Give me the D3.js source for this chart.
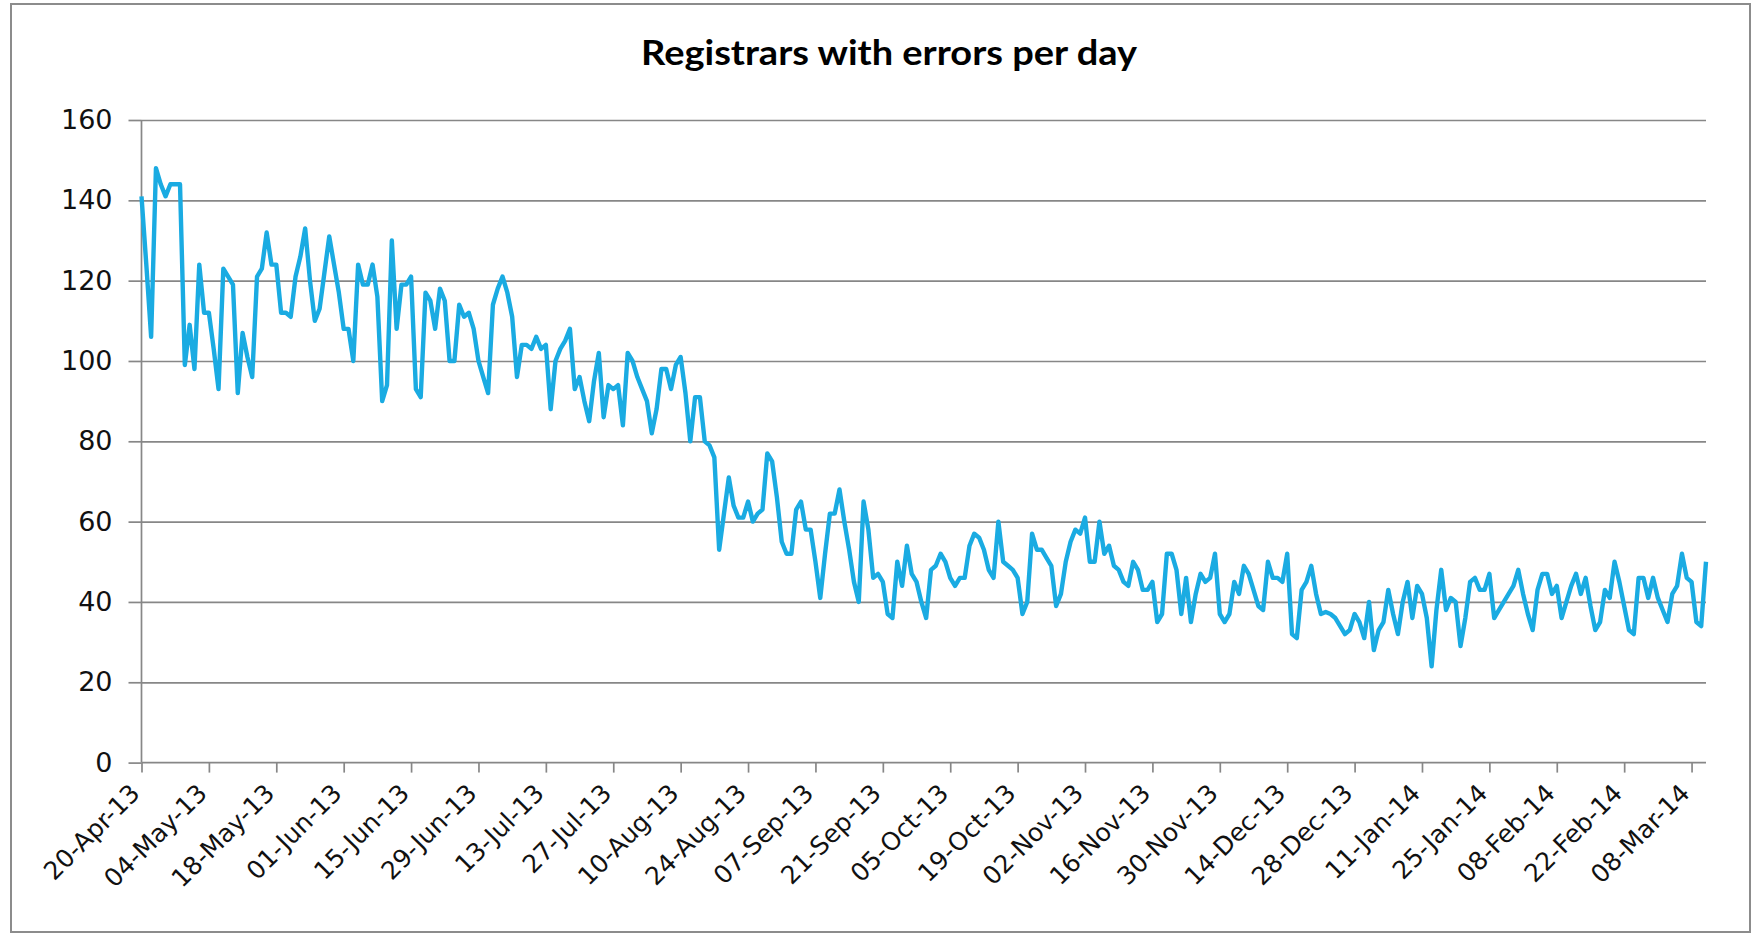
<!DOCTYPE html>
<html>
<head>
<meta charset="utf-8">
<script src="https://cdn.jsdelivr.net/npm/d3@7"></script>
<style>
  html, body { margin: 0; padding: 0; background: #ffffff; }
  svg { display: block; }
</style>
</head>
<body>
<svg id="chart" width="1761" height="937"></svg>
<script>
// ---------------- data ----------------
const chartTitle = "Registrars with errors per day";
const startDate = "2013-04-20";
const values = [
  141,124,106,148,144,141,144,144,144,99,
  109,98,124,112,112,103,93,123,121,119,
  92,107,101,96,121,123,132,124,124,112,
  112,111,121,126,133,120,110,113,122,131,
  124,117,108,108,100,124,119,119,124,116,
  90,94,130,108,119,119,121,93,91,117,
  115,108,118,115,100,100,114,111,112,108,
  100,96,92,114,118,121,117,111,96,104,
  104,103,106,103,104,88,100,103,105,108,
  93,96,90,85,95,102,86,94,93,94,
  84,102,100,96,93,90,82,88,98,98,
  93,99,101,92,80,91,91,80,79,76,
  53,62,71,64,61,61,65,60,62,63,
  77,75,66,55,52,52,63,65,58,58,
  50,41,52,62,62,68,60,53,45,40,
  65,58,46,47,45,37,36,50,44,54,
  47,45,40,36,48,49,52,50,46,44,
  46,46,54,57,56,53,48,46,60,50,
  49,48,46,37,40,57,53,53,51,49,
  39,42,50,55,58,57,61,50,50,60,
  52,54,49,48,45,44,50,48,43,43,
  45,35,37,52,52,48,37,46,35,42,
  47,45,46,52,37,35,37,45,42,49,
  47,43,39,38,50,46,46,45,52,32,
  31,43,45,49,42,37,37.5,37,36,34,
  32,33,37,35,31,40,28,33,35,43,
  37,32,40,45,36,44,42,36,24,38,
  48,38,41,40,29,36,45,46,43,43,
  47,36,38,40,42,44,48,42,37,33,
  43,47,47,42,44,36,40,44,47,42,
  46,39,33,35,43,41,50,45,39,33,
  32,46,46,41,46,41,38,35,42,44,
  52,46,45,35,34,50
];
const tickLabels = [
  "20-Apr-13","04-May-13","18-May-13","01-Jun-13","15-Jun-13","29-Jun-13",
  "13-Jul-13","27-Jul-13","10-Aug-13","24-Aug-13","07-Sep-13","21-Sep-13",
  "05-Oct-13","19-Oct-13","02-Nov-13","16-Nov-13","30-Nov-13","14-Dec-13",
  "28-Dec-13","11-Jan-14","25-Jan-14","08-Feb-14","22-Feb-14","08-Mar-14"
];
const yTicks = [0, 20, 40, 60, 80, 100, 120, 140, 160];

// ---------------- layout ----------------
const parseLabel = d3.utcParse("%d-%b-%y");
const fmtLabel = d3.utcFormat("%d-%b-%y");
const start = d3.utcParse("%Y-%m-%d")(startDate);
const series = values.map((v, i) => ({ date: d3.utcDay.offset(start, i), value: v }));
const tickDates = tickLabels.map(parseLabel);

const plot = { left: 141.5, right: 1706, top: 120, bottom: 762.6 };

const svg = d3.select("#chart");

// outer chart border
svg.append("rect")
  .attr("x", 11).attr("y", 4)
  .attr("width", 1739).attr("height", 928)
  .attr("fill", "#ffffff")
  .attr("stroke", "#8c8c8c")
  .attr("stroke-width", 2);

const x = d3.scaleUtc()
  .domain([series[0].date, series[series.length - 1].date])
  .range([plot.left, plot.right]);

const y = d3.scaleLinear()
  .domain([0, 160])
  .range([plot.bottom, plot.top]);

// gridlines
svg.append("g")
  .attr("transform", `translate(${plot.left},0)`)
  .call(d3.axisLeft(y).tickValues(yTicks.filter(t => t > 0)).tickSize(-(plot.right - plot.left)).tickFormat(""))
  .call(g => g.select(".domain").remove())
  .call(g => g.selectAll("line").attr("stroke", "#878787").attr("stroke-width", 1.7));

// y axis with outside ticks
const yAxis = svg.append("g")
  .attr("transform", `translate(${plot.left},0)`)
  .call(d3.axisLeft(y).tickValues(yTicks).tickSize(13).tickPadding(16));
yAxis.select(".domain").attr("stroke", "#878787").attr("stroke-width", 1.7)
  .attr("d", `M0,${plot.top}V${plot.bottom}`);
yAxis.selectAll("line").attr("stroke", "#878787").attr("stroke-width", 1.7);
yAxis.selectAll("text")
  .attr("font-family", "'DejaVu Sans', sans-serif")
  .attr("font-size", 27)
  .attr("fill", "#111111");

// x axis
const xAxis = svg.append("g")
  .attr("transform", `translate(0,${plot.bottom})`)
  .call(d3.axisBottom(x).tickValues(tickDates).tickFormat(fmtLabel).tickSize(10).tickSizeOuter(0));
xAxis.select(".domain").attr("stroke", "#878787").attr("stroke-width", 1.7)
  .attr("d", `M${plot.left},0H${plot.right}`);
xAxis.selectAll("line").attr("stroke", "#878787").attr("stroke-width", 1.7);
xAxis.selectAll("text")
  .attr("font-family", "'DejaVu Sans', sans-serif")
  .attr("font-size", 25)
  .attr("fill", "#111111")
  .attr("text-anchor", "end")
  .attr("dy", "0.35em")
  .attr("y", 0)
  .attr("transform", "translate(-7,26) rotate(-45)");

// line
svg.append("path")
  .datum(series)
  .attr("fill", "none")
  .attr("stroke", "#1aabe2")
  .attr("stroke-width", 4.4)
  .attr("stroke-linejoin", "round")
  .attr("d", d3.line().x(d => x(d.date)).y(d => y(d.value)));

// title
svg.append("text")
  .attr("x", 889)
  .attr("y", 65)
  .attr("text-anchor", "middle")
  .attr("font-family", "Lato, 'Open Sans', sans-serif")
  .attr("font-weight", "bold")
  .attr("font-size", 34)
  .attr("textLength", 496)
  .attr("lengthAdjust", "spacingAndGlyphs")
  .attr("fill", "#000000")
  .text(chartTitle);
</script>
</body>
</html>
